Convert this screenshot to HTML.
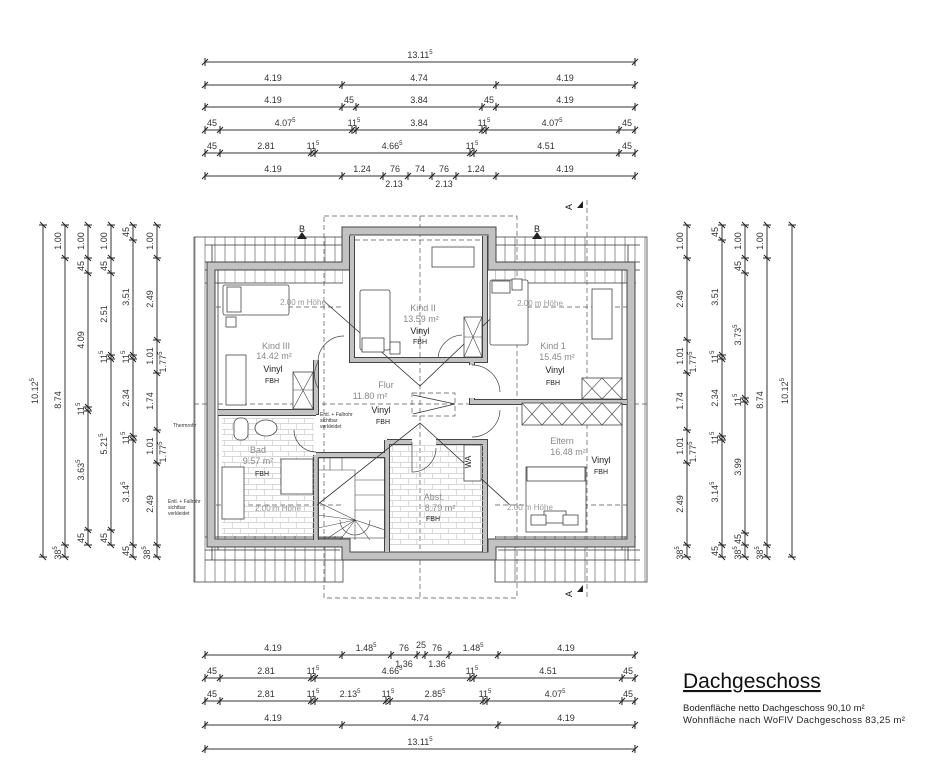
<!DOCTYPE html>
<html><head><meta charset="utf-8"><style>
html,body{margin:0;padding:0;background:#fff;}
svg{display:block;font-family:"Liberation Sans",sans-serif;}
.d{stroke:#333;stroke-width:1;fill:none;marker-start:url(#t);marker-mid:url(#t);marker-end:url(#t);}
.lb{font-size:9px;fill:#333;text-anchor:middle;}
.rm{font-size:9px;fill:#888;text-anchor:middle;}
.rv{font-size:9px;fill:#222;text-anchor:middle;}
.rf{font-size:7px;fill:#222;text-anchor:middle;}
.hh{font-size:8px;fill:#999;text-anchor:middle;}
</style></head><body>
<svg width="944" height="779" viewBox="0 0 944 779" xmlns="http://www.w3.org/2000/svg">
<defs>
<marker id="t" markerWidth="12" markerHeight="12" refX="6" refY="6" orient="auto" markerUnits="userSpaceOnUse">
<path d="M6 2V10M3 9L9 3" stroke="#222" stroke-width="1" fill="none"/>
</marker>
<pattern id="h" width="10" height="10" patternUnits="userSpaceOnUse">
<line x1="5" y1="0" x2="5" y2="10" stroke="#666" stroke-width="0.7"/>
</pattern>
<pattern id="tile" width="16" height="11" patternUnits="userSpaceOnUse">
<path d="M0 0.5H16M0.5 0V5.5M8.5 5.5V11M0 5.5H16" stroke="#ccc" stroke-width="0.7" fill="none"/>
</pattern>
</defs>

<!-- TOP DIMENSIONS -->
<polyline class="d" points="205,62 635,62"/>
<text x="420" y="58" class="lb">13.11<tspan font-size="6" dy="-4">5</tspan></text>
<polyline class="d" points="205,85 342,85 496,85 635,85"/>
<text x="273" y="81" class="lb">4.19</text><text x="419" y="81" class="lb">4.74</text><text x="565" y="81" class="lb">4.19</text>
<polyline class="d" points="205,107 342,107 356,107 482,107 496,107 635,107"/>
<text x="273" y="103" class="lb">4.19</text><text x="349" y="103" class="lb">45</text><text x="419" y="103" class="lb">3.84</text><text x="489" y="103" class="lb">45</text><text x="565" y="103" class="lb">4.19</text>
<polyline class="d" points="205,130 220,130 352,130 356,130 482,130 486,130 619,130 635,130"/>
<text x="212" y="126" class="lb">45</text><text x="285" y="126" class="lb">4.07<tspan font-size="6" dy="-4">5</tspan></text><text x="354" y="126" class="lb">11<tspan font-size="6" dy="-4">5</tspan></text><text x="419" y="126" class="lb">3.84</text><text x="484" y="126" class="lb">11<tspan font-size="6" dy="-4">5</tspan></text><text x="552" y="126" class="lb">4.07<tspan font-size="6" dy="-4">5</tspan></text><text x="627" y="126" class="lb">45</text>
<polyline class="d" points="205,153 220,153 311,153 315,153 470,153 474,153 619,153 635,153"/>
<text x="212" y="149" class="lb">45</text><text x="266" y="149" class="lb">2.81</text><text x="313" y="149" class="lb">11<tspan font-size="6" dy="-4">5</tspan></text><text x="392" y="149" class="lb">4.66<tspan font-size="6" dy="-4">5</tspan></text><text x="472" y="149" class="lb">11<tspan font-size="6" dy="-4">5</tspan></text><text x="546" y="149" class="lb">4.51</text><text x="627" y="149" class="lb">45</text>
<polyline class="d" points="205,176 342,176 383,176 408,176 432,176 456,176 496,176 635,176"/>
<text x="273" y="172" class="lb">4.19</text><text x="362" y="172" class="lb">1.24</text><text x="395" y="172" class="lb">76</text><text x="420" y="172" class="lb">74</text><text x="444" y="172" class="lb">76</text><text x="476" y="172" class="lb">1.24</text><text x="565" y="172" class="lb">4.19</text>
<text x="394" y="187" class="lb">2.13</text><text x="444" y="187" class="lb">2.13</text>

<!-- BOTTOM DIMENSIONS -->
<polyline class="d" points="205,655 342,655 391,655 417,655 425,655 449,655 498,655 635,655"/>
<text x="273" y="651" class="lb">4.19</text><text x="366" y="651" class="lb">1.48<tspan font-size="6" dy="-4">5</tspan></text><text x="404" y="651" class="lb">76</text><text x="421" y="648" class="lb">25</text><text x="437" y="651" class="lb">76</text><text x="473" y="651" class="lb">1.48<tspan font-size="6" dy="-4">5</tspan></text><text x="566" y="651" class="lb">4.19</text>
<text x="404" y="667" class="lb">1.36</text><text x="437" y="667" class="lb">1.36</text>
<polyline class="d" points="205,678 220,678 311,678 315,678 470,678 474,678 622,678 635,678"/>
<text x="212" y="674" class="lb">45</text><text x="266" y="674" class="lb">2.81</text><text x="313" y="674" class="lb">11<tspan font-size="6" dy="-4">5</tspan></text><text x="392" y="674" class="lb">4.66<tspan font-size="6" dy="-4">5</tspan></text><text x="472" y="674" class="lb">11<tspan font-size="6" dy="-4">5</tspan></text><text x="548" y="674" class="lb">4.51</text><text x="628" y="674" class="lb">45</text>
<polyline class="d" points="205,701 220,701 311,701 315,701 386,701 390,701 483,701 487,701 622,701 635,701"/>
<text x="212" y="697" class="lb">45</text><text x="266" y="697" class="lb">2.81</text><text x="313" y="697" class="lb">11<tspan font-size="6" dy="-4">5</tspan></text><text x="350" y="697" class="lb">2.13<tspan font-size="6" dy="-4">5</tspan></text><text x="388" y="697" class="lb">11<tspan font-size="6" dy="-4">5</tspan></text><text x="435" y="697" class="lb">2.85<tspan font-size="6" dy="-4">5</tspan></text><text x="485" y="697" class="lb">11<tspan font-size="6" dy="-4">5</tspan></text><text x="555" y="697" class="lb">4.07<tspan font-size="6" dy="-4">5</tspan></text><text x="628" y="697" class="lb">45</text>
<polyline class="d" points="205,725 342,725 498,725 635,725"/>
<text x="273" y="721" class="lb">4.19</text><text x="420" y="721" class="lb">4.74</text><text x="566" y="721" class="lb">4.19</text>
<polyline class="d" points="205,749 635,749"/>
<text x="420" y="745" class="lb">13.11<tspan font-size="6" dy="-4">5</tspan></text>

<!-- LEFT DIMENSIONS -->
<polyline class="d" points="43,225 43,557"/>
<polyline class="d" points="65,225 65,258 65,545 65,557"/>
<polyline class="d" points="88,225 88,258 88,273 88,407 88,411 88,530 88,545"/>
<polyline class="d" points="111,225 111,258 111,273 111,355 111,359 111,530 111,545"/>
<polyline class="d" points="133,225 133,240 133,355 133,359 133,436 133,440 133,545 133,557"/>
<polyline class="d" points="157,225 157,258 157,340 157,373 157,430 157,463 157,545 157,557"/>
<text transform="translate(38,391) rotate(-90)" class="lb">10.12<tspan font-size="6" dy="-4">5</tspan></text>
<text transform="translate(61,241) rotate(-90)" class="lb">1.00</text>
<text transform="translate(61,400) rotate(-90)" class="lb">8.74</text>
<text transform="translate(61,553) rotate(-90)" class="lb">38<tspan font-size="6" dy="-4">5</tspan></text>
<text transform="translate(84,241) rotate(-90)" class="lb">1.00</text>
<text transform="translate(84,266) rotate(-90)" class="lb">45</text>
<text transform="translate(84,340) rotate(-90)" class="lb">4.09</text>
<text transform="translate(84,409) rotate(-90)" class="lb">11<tspan font-size="6" dy="-4">5</tspan></text>
<text transform="translate(84,470) rotate(-90)" class="lb">3.63<tspan font-size="6" dy="-4">5</tspan></text>
<text transform="translate(84,538) rotate(-90)" class="lb">45</text>
<text transform="translate(107,241) rotate(-90)" class="lb">1.00</text>
<text transform="translate(107,266) rotate(-90)" class="lb">45</text>
<text transform="translate(107,314) rotate(-90)" class="lb">2.51</text>
<text transform="translate(107,357) rotate(-90)" class="lb">11<tspan font-size="6" dy="-4">5</tspan></text>
<text transform="translate(107,444) rotate(-90)" class="lb">5.21<tspan font-size="6" dy="-4">5</tspan></text>
<text transform="translate(107,538) rotate(-90)" class="lb">45</text>
<text transform="translate(129,232) rotate(-90)" class="lb">45</text>
<text transform="translate(129,297) rotate(-90)" class="lb">3.51</text>
<text transform="translate(129,357) rotate(-90)" class="lb">11<tspan font-size="6" dy="-4">5</tspan></text>
<text transform="translate(129,398) rotate(-90)" class="lb">2.34</text>
<text transform="translate(129,438) rotate(-90)" class="lb">11<tspan font-size="6" dy="-4">5</tspan></text>
<text transform="translate(129,492) rotate(-90)" class="lb">3.14<tspan font-size="6" dy="-4">5</tspan></text>
<text transform="translate(129,551) rotate(-90)" class="lb">45</text>
<text transform="translate(153,241) rotate(-90)" class="lb">1.00</text>
<text transform="translate(153,299) rotate(-90)" class="lb">2.49</text>
<text transform="translate(153,356) rotate(-90)" class="lb">1.01</text>
<text transform="translate(166,362) rotate(-90)" class="lb">1.77<tspan font-size="6" dy="-4">5</tspan></text>
<text transform="translate(153,401) rotate(-90)" class="lb">1.74</text>
<text transform="translate(153,446) rotate(-90)" class="lb">1.01</text>
<text transform="translate(166,452) rotate(-90)" class="lb">1.77<tspan font-size="6" dy="-4">5</tspan></text>
<text transform="translate(153,504) rotate(-90)" class="lb">2.49</text>
<text transform="translate(150,553) rotate(-90)" class="lb">38<tspan font-size="6" dy="-4">5</tspan></text>

<!-- RIGHT DIMENSIONS -->
<polyline class="d" points="687,225 687,258 687,340 687,373 687,430 687,463 687,545 687,557"/>
<polyline class="d" points="722,225 722,240 722,355 722,359 722,436 722,440 722,545 722,557"/>
<polyline class="d" points="745,225 745,258 745,273 745,398 745,402 745,533 745,545 745,557"/>
<polyline class="d" points="767,225 767,258 767,545 767,557"/>
<polyline class="d" points="792,225 792,557"/>
<text transform="translate(683,241) rotate(-90)" class="lb">1.00</text>
<text transform="translate(683,299) rotate(-90)" class="lb">2.49</text>
<text transform="translate(683,356) rotate(-90)" class="lb">1.01</text>
<text transform="translate(696,362) rotate(-90)" class="lb">1.77<tspan font-size="6" dy="-4">5</tspan></text>
<text transform="translate(683,401) rotate(-90)" class="lb">1.74</text>
<text transform="translate(683,446) rotate(-90)" class="lb">1.01</text>
<text transform="translate(696,452) rotate(-90)" class="lb">1.77<tspan font-size="6" dy="-4">5</tspan></text>
<text transform="translate(683,504) rotate(-90)" class="lb">2.49</text>
<text transform="translate(683,553) rotate(-90)" class="lb">38<tspan font-size="6" dy="-4">5</tspan></text>
<text transform="translate(718,232) rotate(-90)" class="lb">45</text>
<text transform="translate(718,297) rotate(-90)" class="lb">3.51</text>
<text transform="translate(718,357) rotate(-90)" class="lb">11<tspan font-size="6" dy="-4">5</tspan></text>
<text transform="translate(718,398) rotate(-90)" class="lb">2.34</text>
<text transform="translate(718,438) rotate(-90)" class="lb">11<tspan font-size="6" dy="-4">5</tspan></text>
<text transform="translate(718,492) rotate(-90)" class="lb">3.14<tspan font-size="6" dy="-4">5</tspan></text>
<text transform="translate(718,551) rotate(-90)" class="lb">45</text>
<text transform="translate(741,241) rotate(-90)" class="lb">1.00</text>
<text transform="translate(741,266) rotate(-90)" class="lb">45</text>
<text transform="translate(741,335) rotate(-90)" class="lb">3.73<tspan font-size="6" dy="-4">5</tspan></text>
<text transform="translate(741,400) rotate(-90)" class="lb">11<tspan font-size="6" dy="-4">5</tspan></text>
<text transform="translate(741,467) rotate(-90)" class="lb">3.99</text>
<text transform="translate(741,539) rotate(-90)" class="lb">45</text>
<text transform="translate(741,553) rotate(-90)" class="lb">38<tspan font-size="6" dy="-4">5</tspan></text>
<text transform="translate(763,241) rotate(-90)" class="lb">1.00</text>
<text transform="translate(763,400) rotate(-90)" class="lb">8.74</text>
<text transform="translate(763,553) rotate(-90)" class="lb">38<tspan font-size="6" dy="-4">5</tspan></text>
<text transform="translate(788,391) rotate(-90)" class="lb">10.12<tspan font-size="6" dy="-4">5</tspan></text>

<!-- PLAN: roof hatch -->
<rect x="194" y="237" width="149" height="345" fill="url(#h)" stroke="#444" stroke-width="0.8"/>
<rect x="495" y="237" width="152" height="345" fill="url(#h)" stroke="#444" stroke-width="0.8"/>
<polygon points="208,283 343,283 343,228 495,228 495,283 634,283 634,536 495,536 495,560 343,560 343,536 208,536" fill="#fff"/>
<polygon points="208,263 343,263 343,228 495,228 495,263 634,263 634,283 208,283" fill="#fff" opacity="0.35"/>
<path d="M205,245H343M495,245H640M205,262H343M495,262H640M205,270H340M498,270H640M205,283H343M495,283H636M205,537H343M495,537H636M205,550H340M498,550H640M205,560H343M495,560H640" stroke="#333" stroke-width="0.7" fill="none"/>
<path d="M212,245V560M218,262V550M622,262V550M628,245V560" stroke="#333" stroke-width="0.8" fill="none"/>
<g stroke="#555" stroke-width="0.7" stroke-dasharray="5,3" fill="none">
<rect x="324" y="216" width="193" height="382"/>
<line x1="420" y1="216" x2="420" y2="598"/>
<line x1="194" y1="404" x2="647" y2="404"/>
<line x1="208" y1="307" x2="343" y2="307"/>
<line x1="495" y1="307" x2="634" y2="307"/>
<line x1="208" y1="505" x2="343" y2="505"/>
<line x1="495" y1="505" x2="634" y2="505"/>
<line x1="355" y1="240" x2="483" y2="240"/>
<rect x="412" y="393" width="43" height="23"/>
<line x1="587" y1="200" x2="587" y2="600"/>
</g>

<!-- outer walls -->
<g fill="none">
<polygon points="211,266 346,266 346,231 492,231 492,266 631,266 631,543 492,543 492,556 346,556 346,543 211,543" stroke="#444" stroke-width="9"/>
<polygon points="211,266 346,266 346,231 492,231 492,266 631,266 631,543 492,543 492,556 346,556 346,543 211,543" stroke="#c2c2c2" stroke-width="7"/>
</g>
<g stroke="#444" stroke-width="6" fill="none">
<path d="M352,236V360H485V236"/>
<path d="M316,360V412H218M316,455V540M316,455H385"/>
<path d="M387,440V552M387,442H412M436,442H485V552M472,358V365M472,398V402H627"/>
<path d="M218,413H316"/>
</g>
<g stroke="#c2c2c2" stroke-width="4" fill="none">
<path d="M352,236V360H485V236"/>
<path d="M316,360V412H218M316,455V540M316,455H385"/>
<path d="M387,440V552M387,442H412M436,442H485V552M472,358V365M472,398V402H627"/>
<path d="M218,413H316"/>
</g>

<rect x="222" y="418" width="92" height="118" fill="url(#tile)"/>
<rect x="390" y="445" width="93" height="100" fill="url(#tile)"/>

<g stroke="#333" stroke-width="0.8" fill="none">
<path d="M325,302L420,386L508,302M317,505L420,423L510,505"/>
<path d="M413,395L455,404L413,414"/>
</g>
<g stroke="#444" stroke-width="0.7" fill="none">
<path d="M318,362A26,26 0 0 1 344,336"/>
<path d="M318,388A26,26 0 0 1 318,362"/>
<path d="M438,358A25,25 0 0 1 462,335"/>
<path d="M472,365A28,28 0 0 1 500,392"/>
<path d="M472,437A28,28 0 0 0 500,410"/>
<path d="M294,430A22,22 0 0 0 316,452"/>
<path d="M412,442V472A24,24 0 0 0 436,448"/>
</g>

<g stroke="#444" stroke-width="0.8" fill="#fff">
<rect x="223" y="285" width="66" height="30" rx="2"/>
<rect x="227" y="287" width="14" height="25"/>
<rect x="226" y="317" width="10" height="10"/>
<rect x="226" y="355" width="20" height="50"/>
<rect x="293" y="372" width="20" height="37"/>
<rect x="360" y="290" width="30" height="60" rx="2"/>
<rect x="362" y="338" width="22" height="14"/>
<rect x="390" y="342" width="10" height="12"/>
<rect x="432" y="247" width="42" height="20"/>
<rect x="464" y="317" width="18" height="40"/>
<rect x="490" y="280" width="38" height="65" rx="2"/>
<rect x="492" y="281" width="18" height="12"/>
<rect x="512" y="279" width="10" height="11"/>
<rect x="592" y="289" width="20" height="50"/>
<rect x="582" y="378" width="40" height="21"/>
<rect x="522" y="403" width="100" height="22"/>
<rect x="464" y="445" width="17" height="36"/>
<rect x="526" y="467" width="60" height="65"/>
<rect x="527" y="467" width="58" height="14"/>
<rect x="234" y="418" width="14" height="22" rx="6"/>
<ellipse cx="266" cy="428" rx="11" ry="8"/>
<rect x="222" y="467" width="22" height="52"/>
<rect x="281" y="459" width="32" height="35"/>
<rect x="544" y="511" width="22" height="12"/>
<rect x="531" y="515" width="15" height="10"/>
<rect x="563" y="515" width="15" height="10"/>
</g>
<g stroke="#444" stroke-width="0.6" fill="none">
<path d="M293,372L313,409M313,372L293,409M293,390H313"/>
<path d="M464,317L482,357M482,317L464,357M464,337H482"/>
<path d="M582,378L602,399M602,378L582,399M602,378L622,399M622,378L602,399"/>
<path d="M522,403l20,22m0,-22l-20,22M542,403l20,22m0,-22l-20,22M562,403l20,22m0,-22l-20,22M582,403l20,22m0,-22l-20,22M602,403l20,22m0,-22l-20,22"/>
</g>
<g stroke="#444" stroke-width="0.6" fill="none">
<rect x="318" y="458" width="67" height="80"/>
<path d="M318,470H355V540M330,458V470M342,458V470M355,480H385M355,495H385M355,510H385M355,520L340,540M355,520L328,538M355,520L318,528M355,520L318,515M355,520L318,502M355,520L370,540M355,520L385,530M340,520A15,15 0 0 0 370,520"/>
</g>
<text x="471" y="462" transform="rotate(-90 471,462)" font-size="8" fill="#222" text-anchor="middle">WA</text>

<g fill="#222">
<polygon points="577,208 583,201 583,208"/>
<polygon points="577,592 583,585 583,592"/>
<polygon points="297,239 302,232 307,239"/>
<polygon points="532,239 537,232 542,239"/>
</g>
<text x="572" y="210" font-size="9" fill="#222" transform="rotate(-90 572,210)">A</text>
<text x="572" y="597" font-size="9" fill="#222" transform="rotate(-90 572,597)">A</text>
<text x="302" y="232" font-size="9" fill="#222" text-anchor="middle">B</text>
<text x="537" y="232" font-size="9" fill="#222" text-anchor="middle">B</text>

<text x="423" y="311" class="rm">Kind II</text><text x="421" y="322" class="rm">13.59 m²</text><text x="420" y="334" class="rv">Vinyl</text><text x="420" y="344" class="rf">FBH</text>
<text x="276" y="349" class="rm">Kind III</text><text x="274" y="359" class="rm">14.42 m²</text><text x="273" y="372" class="rv">Vinyl</text><text x="272" y="383" class="rf">FBH</text>
<text x="553" y="349" class="rm">Kind 1</text><text x="557" y="360" class="rm">15.45 m²</text><text x="555" y="373" class="rv">Vinyl</text><text x="553" y="385" class="rf">FBH</text>
<text x="386" y="388" class="rm">Flur</text><text x="370" y="399" class="rm">11.80 m²</text><text x="381" y="413" class="rv">Vinyl</text><text x="383" y="424" class="rf">FBH</text>
<text x="258" y="453" class="rm">Bad</text><text x="258" y="464" class="rm">9.57 m²</text><text x="262" y="476" class="rf">FBH</text>
<text x="434" y="500" class="rm">Abst.</text><text x="440" y="511" class="rm">8.79 m²</text><text x="433" y="521" class="rf">FBH</text>
<text x="562" y="444" class="rm">Eltern</text><text x="568" y="455" class="rm">16.48 m²</text><text x="601" y="463" class="rv">Vinyl</text><text x="601" y="474" class="rf">FBH</text>
<text x="303" y="305" class="hh">2.00 m Höhe</text><text x="540" y="306" class="hh">2.00 m Höhe</text>
<text x="278" y="511" class="hh">2.00 m Höhe</text><text x="530" y="510" class="hh">2.00 m Höhe</text>
<text x="320" y="416" font-size="5" fill="#333">Entl. + Fallrohr</text><text x="320" y="422" font-size="5" fill="#333">sichtbar</text><text x="320" y="428" font-size="5" fill="#333">verkleidet</text>
<text x="173" y="427" font-size="5" fill="#333">Thermrohr</text>
<text x="168" y="503" font-size="5" fill="#333">Entl. + Fallrohr</text><text x="168" y="509" font-size="5" fill="#333">sichtbar</text><text x="168" y="515" font-size="5" fill="#333">verkleidet</text>

<text x="683" y="688" font-size="21" fill="#111" text-decoration="underline">Dachgeschoss</text>
<text x="683" y="711" font-size="9.5" fill="#222">Bodenfläche netto Dachgeschoss 90,10 m²</text>
<text x="683" y="723" font-size="9.5" fill="#222" letter-spacing="0.3">Wohnfläche nach WoFlV Dachgeschoss 83,25 m²</text>
</svg>
</body></html>
